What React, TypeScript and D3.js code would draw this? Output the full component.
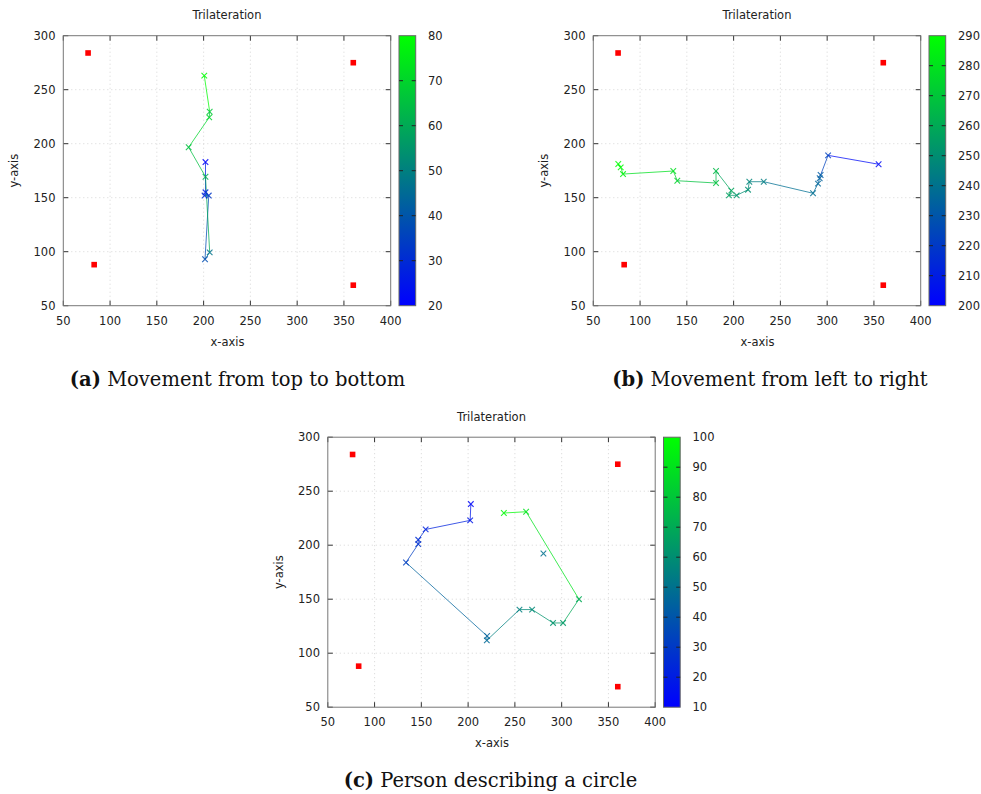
import React from "react";
import * as d3 from "d3";

// ---- data ----
const anchorX = [76.5, 83, 360, 360];
const anchorY = [284, 88, 275, 69];

// Panel (a): movement from top to bottom
const aX = [202, 202, 201, 205.5, 201.5, 206.5, 202, 184, 206, 206.5, 200.7];
const aY = [183, 155, 152, 152, 93, 99.4, 169.4, 196.7, 224.4, 229.6, 263];
const aC = [21, 27, 30, 33, 38, 47, 60, 65, 70, 67, 79];
const aBreak: number[] = [];

// Panel (b): movement from left to right
const bX = [76.7, 79.3, 81.8, 135.5, 139.8, 181.2, 181.2, 197.5, 195, 203.3, 215.4, 216.8, 232.2, 284.9, 290.2, 292, 293, 301, 355];
const bY = [181.2, 178.1, 171.9, 174.7, 165.7, 163.6, 174.7, 156.5, 152.2, 152.2, 157.4, 164.8, 164.8, 154.1, 163, 168, 171, 189.2, 181];
const bC = [290, 288, 285, 279, 274, 268, 265, 258, 256, 253, 250, 247, 244, 239, 236, 234, 232, 223, 203];
const bBreak: number[] = [];

// Panel (c): person describing a circle
const cX = [202.9, 202.2, 154.6, 146.7, 146.7, 133.6, 220.3, 220, 254.9, 268.4, 290.8, 301.5, 318.5, 262, 238.2, 280.5];
const cY = [238.1, 223, 214.6, 205, 201, 184, 115.9, 111.9, 140.4, 140.4, 128, 128, 150, 231, 229.8, 192.3];
const cC = [12, 18, 22, 26, 28, 32, 45, 47, 55, 58, 62, 64, 70, 90, 98, 50];
const cBreak = [15];

const xTicks = [50, 100, 150, 200, 250, 300, 350, 400];
const yTicks = [50, 100, 150, 200, 250, 300];
const aCbTicks = [20, 30, 40, 50, 60, 70, 80];
const bCbTicks = [200, 210, 220, 230, 240, 250, 260, 270, 280, 290];
const cCbTicks = [10, 20, 30, 40, 50, 60, 70, 80, 90, 100];

const titleText = "Trilateration";
const xLabel = "x-axis";
const yLabel = "y-axis";

const SANS = "DejaVu Sans, sans-serif";
const SERIF = "DejaVu Serif, serif";

type PanelProps = {
  dx: number;
  dy: number;
  xs: number[];
  ys: number[];
  cs: number[];
  breaks: number[];
  cbTicks: number[];
};

function Panel({ dx, dy, xs, ys, cs, breaks, cbTicks }: PanelProps) {
  const L = 63.3, R = 390.7, T = 35.7, B = 305.7;
  const x = d3.scaleLinear().domain([50, 400]).range([L, R]);
  const y = d3.scaleLinear().domain([50, 300]).range([B, T]);
  const cmin = cbTicks[0], cmax = cbTicks[cbTicks.length - 1];
  const cnorm = d3.scaleLinear().domain([cmin, cmax]).range([0, 1]).clamp(true);
  const col = (v: number) => d3.interpolateRgb("rgb(0,0,255)", "rgb(0,255,0)")(cnorm(v));
  const cbL = 399, cbR = 415.7;
  const cy = d3.scaleLinear().domain([cmin, cmax]).range([B, T]);
  const gid = `cb${dx}_${dy}`;
  const tickCol = "#333";
  const txtCol = "#222";

  const segs: JSX.Element[] = [];
  for (let i = 1; i < xs.length; i++) {
    if (breaks.includes(i)) continue;
    segs.push(
      <line key={"s" + i} x1={x(xs[i - 1])} y1={y(ys[i - 1])} x2={x(xs[i])} y2={y(ys[i])}
        stroke={col(cs[i])} strokeWidth={1} strokeOpacity={0.75} />
    );
  }
  const marks = xs.map((v, i) => {
    const px = x(v), py = y(ys[i]), s = 2.8;
    return (
      <path key={"m" + i} d={`M${px - s},${py - s}L${px + s},${py + s}M${px - s},${py + s}L${px + s},${py - s}`}
        stroke={col(cs[i])} strokeWidth={1.1} strokeOpacity={0.85} fill="none" />
    );
  });

  return (
    <g transform={`translate(${dx},${dy})`}>
      <defs>
        <linearGradient id={gid} x1="0" y1="1" x2="0" y2="0">
          <stop offset="0%" stopColor="rgb(0,0,255)" />
          <stop offset="100%" stopColor="rgb(0,255,0)" />
        </linearGradient>
      </defs>
      <text x={227} y={19} fontFamily={SANS} fontSize={11.5} textAnchor="middle" fill={txtCol}>{titleText}</text>
      {/* grid */}
      {xTicks.slice(1, -1).map((t) => (
        <line key={"gx" + t} x1={x(t)} x2={x(t)} y1={T} y2={B} stroke="#ccc" strokeWidth={0.8} strokeDasharray="1,3" />
      ))}
      {yTicks.slice(1, -1).map((t) => (
        <line key={"gy" + t} x1={L} x2={R} y1={y(t)} y2={y(t)} stroke="#ccc" strokeWidth={0.8} strokeDasharray="1,3" />
      ))}
      {/* ticks */}
      {xTicks.map((t) => (
        <g key={"tx" + t}>
          <line x1={x(t)} x2={x(t)} y1={B} y2={B - 5} stroke={tickCol} />
          <line x1={x(t)} x2={x(t)} y1={T} y2={T + 5} stroke={tickCol} />
          <text x={x(t)} y={324.5} fontFamily={SANS} fontSize={11.5} textAnchor="middle" fill={txtCol}>{t}</text>
        </g>
      ))}
      {yTicks.map((t) => (
        <g key={"ty" + t}>
          <line x1={L} x2={L + 5} y1={y(t)} y2={y(t)} stroke={tickCol} />
          <line x1={R} x2={R - 5} y1={y(t)} y2={y(t)} stroke={tickCol} />
          <text x={55.5} y={y(t) + 4} fontFamily={SANS} fontSize={11.5} textAnchor="end" fill={txtCol}>{t}</text>
        </g>
      ))}
      <rect x={L} y={T} width={R - L} height={B - T} fill="none" stroke="#777" strokeWidth={1} />
      {/* anchors */}
      {anchorX.map((v, i) => (
        <rect key={"a" + i} x={x(v) - 2.8} y={y(anchorY[i]) - 2.8} width={5.6} height={5.6} fill="#ff0000" />
      ))}
      {segs}
      {marks}
      <text x={227.5} y={345.5} fontFamily={SANS} fontSize={11.5} textAnchor="middle" fill={txtCol}>{xLabel}</text>
      <text transform={`translate(18,${(T + B) / 2}) rotate(-90)`} fontFamily={SANS} fontSize={11.5} textAnchor="middle" fill={txtCol}>{yLabel}</text>
      {/* colorbar */}
      <rect x={cbL} y={T} width={cbR - cbL} height={B - T} fill={`url(#${gid})`} stroke="#666" strokeWidth={1} />
      {cbTicks.map((t) => (
        <g key={"cb" + t}>
          {t !== cmin && t !== cmax && (
            <>
              <line x1={cbL} x2={cbL + 4} y1={cy(t)} y2={cy(t)} stroke="#222" />
              <line x1={cbR} x2={cbR - 4} y1={cy(t)} y2={cy(t)} stroke="#222" />
            </>
          )}
          <text x={428} y={cy(t) + 4} fontFamily={SANS} fontSize={11.5} fill={txtCol}>{t}</text>
        </g>
      ))}
    </g>
  );
}

function Caption({ cx, y, label, text }: { cx: number; y: number; label: string; text: string }) {
  return (
    <text x={cx} y={y} fontFamily={SERIF} fontSize={19.5} textAnchor="middle" fill="#111">
      <tspan fontWeight="bold">{label}</tspan>
      <tspan>{" " + text}</tspan>
    </text>
  );
}

export default function App() {
  return (
    <svg width={981} height={794} style={{ position: "absolute", left: 0, top: 0, background: "#fff" }}>
      <rect width={981} height={794} fill="#fff" />
      <Panel dx={0} dy={0} xs={aX} ys={aY} cs={aC} breaks={aBreak} cbTicks={aCbTicks} />
      <Panel dx={530} dy={0} xs={bX} ys={bY} cs={bC} breaks={bBreak} cbTicks={bCbTicks} />
      <Panel dx={264.5} dy={401.5} xs={cX} ys={cY} cs={cC} breaks={cBreak} cbTicks={cCbTicks} />
      <Caption cx={237.5} y={385.5} label="(a)" text="Movement from top to bottom" />
      <Caption cx={770} y={385.5} label="(b)" text="Movement from left to right" />
      <Caption cx={490.5} y={786.5} label="(c)" text="Person describing a circle" />
    </svg>
  );
}
